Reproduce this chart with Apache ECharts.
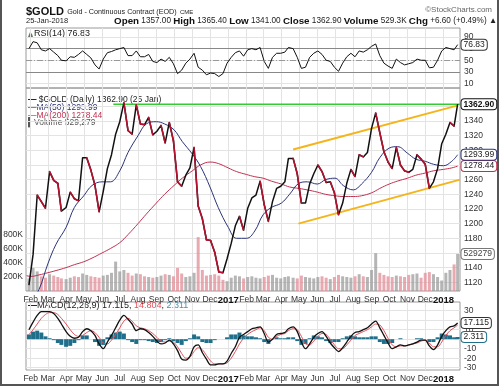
<!DOCTYPE html>
<html><head><meta charset="utf-8">
<script src="https://cdn.jsdelivr.net/npm/echarts@6/dist/echarts.min.js"></script>
<style>html,body{margin:0;padding:0;background:#fff}#c{width:500px;height:387px}</style>
</head><body><div id="c"></div>
<script>
// ---------- data (weekly samples) ----------
const weeks = ['2016-01-29','2016-02-05','2016-02-12','2016-02-19','2016-02-26','2016-03-04','2016-03-11','2016-03-18','2016-03-24','2016-04-01','2016-04-08','2016-04-15','2016-04-22','2016-04-29','2016-05-06','2016-05-13','2016-05-20','2016-05-27','2016-06-03','2016-06-10','2016-06-17','2016-06-24','2016-07-01','2016-07-08','2016-07-15','2016-07-22','2016-07-29','2016-08-05','2016-08-12','2016-08-19','2016-08-26','2016-09-02','2016-09-09','2016-09-16','2016-09-23','2016-09-30','2016-10-07','2016-10-14','2016-10-21','2016-10-28','2016-11-04','2016-11-11','2016-11-18','2016-11-25','2016-12-02','2016-12-09','2016-12-16','2016-12-23','2016-12-30',
'2017-01-06','2017-01-13','2017-01-20','2017-01-27','2017-02-03','2017-02-10','2017-02-17','2017-02-24','2017-03-03','2017-03-10','2017-03-17','2017-03-24','2017-03-31','2017-04-07','2017-04-13','2017-04-21','2017-04-28','2017-05-05','2017-05-12','2017-05-19','2017-05-26','2017-06-02','2017-06-09','2017-06-16','2017-06-23','2017-06-30','2017-07-07','2017-07-14','2017-07-21','2017-07-28','2017-08-04','2017-08-11','2017-08-18','2017-08-25','2017-09-01','2017-09-08','2017-09-15','2017-09-22','2017-09-29','2017-10-06','2017-10-13','2017-10-20','2017-10-27','2017-11-03','2017-11-10','2017-11-17','2017-11-24','2017-12-01','2017-12-08','2017-12-15','2017-12-22','2017-12-29',
'2018-01-05','2018-01-12','2018-01-19','2018-01-25'];
const close = [1116,1158,1239,1230,1221,1271,1259,1255,1217,1222,1243,1234,1231,1290,1290,1273,1252,1216,1244,1275,1294,1322,1339,1365,1327,1322,1362,1336,1335,1345,1321,1326,1334,1310,1338,1313,1257,1251,1266,1276,1304,1224,1207,1178,1177,1161,1134,1133,1152,
1173,1197,1210,1191,1221,1235,1239,1258,1226,1203,1230,1248,1251,1257,1289,1289,1268,1228,1228,1254,1268,1280,1271,1256,1257,1242,1212,1228,1255,1274,1264,1294,1291,1297,1330,1351,1324,1298,1284,1275,1304,1280,1272,1270,1274,1294,1288,1281,1248,1257,1275,1309,
1322,1338,1333,1362.9];
const volumeK = [180,330,280,210,190,240,220,200,180,170,190,210,200,250,230,210,200,190,220,230,260,420,280,300,260,220,250,240,210,200,190,200,220,240,230,210,330,250,200,210,260,770,300,220,230,240,220,160,140,
190,220,210,180,200,210,190,180,200,220,230,190,180,200,210,190,180,220,200,190,180,200,210,190,170,200,230,210,200,190,210,240,210,200,300,540,260,230,210,200,220,210,200,230,240,250,190,260,270,240,200,150,
260,300,380,529.279];
const rsi = [70,82,80,68,66,70,64,58,50,49,56,55,60,66,60,54,42,35,52,63,65,68,70,72,58,58,66,56,56,60,48,46,52,48,55,44,27,33,45,52,62,38,33,25,28,27,22,27,45,
55,63,66,57,68,70,68,72,48,36,55,62,62,64,72,70,55,36,38,55,62,66,60,50,48,38,31,45,56,62,56,66,64,68,74,78,58,45,40,36,52,46,42,44,46,52,50,50,37,38,50,66,
72,70,68,76.83];
const macd = [10,18,25,29,29,29,27,22,16,8,3,1,2,8,11,9,4,-5,-10,-3,4,12,20,25,21,16,9,11,10,7,3,-2,-5,-4,-1,-5,-12,-21,-22,-18,-8,-6,-14,-21,-27,-27,-26,-26,-23,
-15,-8,2,5,8,11,12,13,6,-3,0,5,6,7,11,13,8,-3,-10,-5,2,6,8,3,-4,-9,-13,-9,-3,3,7,8,10,12,16,19,12,4,-4,-10,-8,-6,-7,-6,-5,-3,-1,-1,-7,-11,-6,3,
9,13,14,17.115];
const signal = [5,10,16,22,26,28,28,26,22,16,10,5,3,4,7,9,7,2,-4,-5,-1,5,12,19,22,19,14,12,11,9,6,2,-2,-3,-2,-3,-8,-15,-20,-19,-13,-9,-11,-17,-23,-26,-26,-26,-25,
-20,-13,-5,1,5,8,10,12,9,2,0,3,5,6,9,11,10,3,-5,-6,-2,3,6,5,0,-6,-10,-10,-6,-1,4,6,8,10,13,16,15,9,1,-6,-8,-7,-7,-6,-5,-4,-2,-1,-4,-8,-8,-3,
4,9,12,14.804];
const hist = [5,8,9,7,3,1,-1,-4,-6,-8,-7,-4,-1,4,4,0,-3,-7,-6,2,5,7,8,6,-1,-3,-5,-1,-1,-2,-3,-4,-3,-1,1,-2,-4,-6,-2,1,5,3,-3,-4,-4,-1,0,0,2,
5,5,7,4,3,3,2,1,-3,-5,0,2,1,1,2,2,-2,-6,-5,1,4,3,2,-2,-4,-3,-3,1,3,4,3,2,2,2,3,3,-3,-5,-5,-4,0,1,0,0,0,1,1,0,-3,-3,2,6,
5,4,2,2.311];
const maDates = ['2016-01-25','2016-02-01','2016-02-15','2016-03-01','2016-03-15','2016-04-01','2016-04-15','2016-05-01','2016-05-15','2016-06-01','2016-06-15','2016-07-01','2016-07-15','2016-08-01','2016-08-15','2016-09-01','2016-09-15','2016-10-01','2016-10-15','2016-11-01','2016-11-15','2016-12-01','2016-12-15',
'2017-01-01','2017-01-15','2017-02-01','2017-02-15','2017-03-01','2017-03-15','2017-04-01','2017-04-15','2017-05-01','2017-05-15','2017-06-01','2017-06-15','2017-07-01','2017-07-15','2017-08-01','2017-08-15','2017-09-01','2017-09-15','2017-10-01','2017-10-15','2017-11-01','2017-11-15','2017-12-01','2017-12-15',
'2018-01-01','2018-01-15','2018-01-25'];
const ma50 = [1085,1092,1110,1145,1172,1195,1222,1238,1252,1257,1257,1272,1297,1320,1336,1339,1336,1328,1312,1295,1278,1250,1222,
1195,1180,1180,1190,1212,1222,1228,1240,1255,1257,1254,1260,1262,1252,1246,1254,1270,1290,1303,1305,1296,1288,1285,1281,
1279,1285,1293.99];
const ma200 = [1129,1128,1130,1133,1136,1140,1144,1148,1153,1160,1166,1174,1185,1200,1213,1228,1240,1252,1262,1272,1280,1284,1282,
1276,1271,1267,1264,1262,1258,1254,1250,1248,1246,1243,1240,1238,1237,1237,1238,1242,1248,1254,1258,1262,1266,1269,1272,
1274,1276,1278.44];
const monthTicks = ['2016-02-01','2016-03-01','2016-04-01','2016-05-01','2016-06-01','2016-07-01','2016-08-01','2016-09-01','2016-10-01','2016-11-01','2016-12-01','2017-01-01','2017-02-01','2017-03-01','2017-04-01','2017-05-01','2017-06-01','2017-07-01','2017-08-01','2017-09-01','2017-10-01','2017-11-01','2017-12-01','2018-01-01'];
const priceTicks = [1120,1140,1160,1180,1200,1220,1240,1260,1280,1300,1320,1340,1360];
const rsiTicks = [10,30,50,70,90];
const macdTicks = [-30,-20,-10,0,10,20,30];
const volTicksK = [200,400,600,800];
const resistance = [['2016-06-20',1362.9],['2018-01-29',1362.9]];
const channelUpper = [['2017-04-21',1301],['2018-01-24',1361]];
const channelLower = [['2017-04-30',1200],['2018-01-29',1260]];

// ---------- chart ----------
const T = s => +echarts.number.parseDate(s);
const wt = weeks.map(T);
const xMin = T('2016-01-24'), xMax = T('2018-01-29');
const MONTHS = ['Jan','Feb','Mar','Apr','May','Jun','Jul','Aug','Sep','Oct','Nov','Dec'];
const FONT = '"Liberation Sans", Arial, sans-serif';
const monthT = monthTicks.map(T);
const GRIDC = '#e3e3e3';

function xAx(gi, show) {
  return {type:'value', gridIndex:gi, min:xMin, max:xMax, scale:true,
    axisLine:{show:false}, axisTick:{show:false, customValues:monthT},
    splitLine:{show:true, lineStyle:{color:GRIDC, width:1}},
    axisLabel:{show:show, customValues:monthT, margin:4, fontSize:8.5, color:'#333', fontFamily:FONT, hideOverlap:false,
      formatter:v => { const d = new Date(v); return d.getMonth()===0 ? '{y|'+d.getFullYear()+'}' : MONTHS[d.getMonth()]; },
      rich:{y:{fontWeight:'bold', fontSize:9.5, color:'#111', fontFamily:FONT}}}};
}
function yAx(gi, min, max, ticks, extra) {
  return Object.assign({type:'value', gridIndex:gi, position:'right', min:min, max:max, scale:true,
    axisLine:{show:false}, axisTick:{show:false, customValues:ticks},
    splitLine:{show:true, lineStyle:{color:GRIDC, width:1}},
    axisLabel:{customValues:ticks, margin:4, fontSize:8.5, color:'#333', fontFamily:FONT, formatter:v => String(v)}}, extra||{});
}
function tag(value, text, border, extra) {
  return {coord:[xMax, value], name:text, symbol:'rect', symbolSize:1, itemStyle:{color:'rgba(0,0,0,0)'},
    label:Object.assign({show:true, position:'right', distance:1, formatter:'{b}', backgroundColor:'#fff',
      borderColor:border, borderWidth:1, borderRadius:3, padding:[1,2,0,2], fontSize:8.5, color:'#222', fontFamily:FONT}, extra||{})};
}
const mp = data => ({symbol:'rect', symbolSize:1, silent:true, animation:false, data:data});

const chart = echarts.init(document.getElementById('c'), null, {renderer:'canvas'});
const pair = arr => arr.map(p => [T(p[0]), p[1]]);

const option = {
  animation:false,
  grid:[
    {left:26, top:28, width:434, height:60, show:true, borderColor:'#9a9a9a', borderWidth:1},
    {left:26, top:88, width:434, height:203, show:true, borderColor:'#9a9a9a', borderWidth:1},
    {left:26, top:302, width:434, height:68, show:true, borderColor:'#9a9a9a', borderWidth:1}
  ],
  xAxis:[xAx(0,false), xAx(1,true), xAx(2,true)],
  yAxis:[
    yAx(0, 2.26, 105.48, rsiTicks),
    yAx(1, 1108.1, 1385, priceTicks),
    yAx(1, 0, 2900, volTicksK, {position:'left', splitLine:{show:false},
      axisLabel:{customValues:volTicksK, margin:3, fontSize:8.5, color:'#333', fontFamily:FONT, formatter:v => v+'K'}}),
    yAx(2, -32.42, 39.16, macdTicks)
  ],
  series:[
    {type:'line', xAxisIndex:0, yAxisIndex:0, stack:'ob', data:rsi.map((v,i)=>[wt[i],70]), showSymbol:false, lineStyle:{opacity:0}, silent:true},
    {type:'line', xAxisIndex:0, yAxisIndex:0, stack:'ob', data:rsi.map((v,i)=>[wt[i],Math.max(v-70,0)]), showSymbol:false, lineStyle:{opacity:0}, areaStyle:{color:'#5f7f5f', opacity:0.85}, silent:true},
    {type:'line', xAxisIndex:0, yAxisIndex:0, stack:'os', data:rsi.map((v,i)=>[wt[i],Math.min(v,30)]), showSymbol:false, lineStyle:{opacity:0}, silent:true},
    {type:'line', xAxisIndex:0, yAxisIndex:0, stack:'os', data:rsi.map((v,i)=>[wt[i],30-Math.min(v,30)]), showSymbol:false, lineStyle:{opacity:0}, areaStyle:{color:'#5f7f5f', opacity:0.85}, silent:true},
    {type:'line', xAxisIndex:0, yAxisIndex:0, data:rsi.map((v,i)=>[wt[i],v]), showSymbol:false, lineStyle:{color:'#111', width:1}, z:5,
      markLine:{silent:true, symbol:'none', label:{show:false}, animation:false, data:[
        {yAxis:70, lineStyle:{color:'#888', width:1, type:'solid'}},
        {yAxis:30, lineStyle:{color:'#888', width:1, type:'solid'}},
        {yAxis:50, lineStyle:{color:'#999', width:1, type:[6,2,1,2]}}]},
      markPoint:mp([tag(76.83,'76.83','#333')])},
    {type:'bar', xAxisIndex:1, yAxisIndex:2, barWidth:3, data:volumeK.map((v,i)=>[wt[i],v]), z:1,
      itemStyle:{color:p => (p.dataIndex>0 && close[p.dataIndex]<close[p.dataIndex-1]) ? 'rgba(226,140,150,0.75)' : 'rgba(150,150,150,0.7)'},
      markPoint:mp([tag(529.279,'529279','#777',{color:'#444'})])},
    {type:'line', xAxisIndex:1, yAxisIndex:1, data:pair(maDates.map((d,i)=>[d,ma200[i]])), smooth:0.4, showSymbol:false, lineStyle:{color:'#c0304f', width:1}, z:3,
      markPoint:mp([tag(1278.44,'1278.44','#c0304f')])},
    {type:'line', xAxisIndex:1, yAxisIndex:1, data:pair(maDates.map((d,i)=>[d,ma50[i]])), smooth:0.4, showSymbol:false, lineStyle:{color:'#2b3478', width:1}, z:3,
      markPoint:mp([tag(1293.99,'1293.99','#2b3478')])},
    {type:'line', xAxisIndex:1, yAxisIndex:1, data:pair(resistance), showSymbol:false, lineStyle:{color:'#33cc33', width:1.6}, z:4},
    {type:'line', xAxisIndex:1, yAxisIndex:1, data:pair(channelUpper), showSymbol:false, lineStyle:{color:'#f4b41a', width:2}, z:4},
    {type:'line', xAxisIndex:1, yAxisIndex:1, data:pair(channelLower), showSymbol:false, lineStyle:{color:'#f4b41a', width:2}, z:4},
    {type:'line', xAxisIndex:1, yAxisIndex:1, data:close.map((v,i)=>[wt[i],v]), showSymbol:false, lineStyle:{color:'#111', width:1.5}, z:6,
      markPoint:mp([tag(1362.9,'1362.90','#111',{fontWeight:'bold', color:'#111'})])},
    {type:'custom', xAxisIndex:1, yAxisIndex:1, z:7, clip:true, data:close.map((v,i)=>[wt[i],v]),
      renderItem:(params, api) => {
        const i = params.dataIndex;
        if (i===0 || close[i] >= close[i-1]) return null;
        const a = api.coord([wt[i-1], close[i-1]]), b = api.coord([wt[i], close[i]]);
        return {type:'line', shape:{x1:a[0], y1:a[1], x2:b[0], y2:b[1]}, style:{stroke:'#b3122f', lineWidth:1.6, lineCap:'round'}};
      }},
    {type:'bar', xAxisIndex:2, yAxisIndex:3, barWidth:4, data:hist.map((v,i)=>[wt[i],v]), itemStyle:{color:'#1f6f8b'}, z:2},
    {type:'line', xAxisIndex:2, yAxisIndex:3, data:signal.map((v,i)=>[wt[i],v]), smooth:0.3, showSymbol:false, lineStyle:{color:'#e0505a', width:1}, z:3},
    {type:'line', xAxisIndex:2, yAxisIndex:3, data:macd.map((v,i)=>[wt[i],v]), smooth:0.3, showSymbol:false, lineStyle:{color:'#111', width:1.3}, z:4,
      markPoint:mp([tag(17.115,'17.115','#333'), tag(2.311,'2.311','#1f6f8b')])}
  ],
  graphic:[
    {type:'rect', shape:{x:1, y:-10, width:497, height:395}, style:{fill:'none', stroke:'#555', lineWidth:2}, silent:true},
    {type:'text', left:26, top:6, style:{text:'{a|$GOLD} {b|Gold - Continuous Contract (EOD)} {c|CME}', rich:{
      a:{fontSize:11, fontWeight:'bold', fill:'#111', fontFamily:FONT},
      b:{fontSize:7.2, fill:'#222', fontFamily:FONT}, c:{fontSize:6, fill:'#222', fontFamily:FONT}}}},
    {type:'text', left:26, top:17, style:{text:'25-Jan-2018', fontSize:7.5, fill:'#222', fontFamily:FONT}},
    {type:'text', right:3, top:16, style:{text:'{k|Open} 1357.00 {k|High} 1365.40 {k|Low} 1341.00 {k|Close} 1362.90 {k|Volume} 529.3K {k|Chg} +6.60 (+0.49%) \u25B2',
      fontSize:8.2, fill:'#222', fontFamily:FONT, rich:{k:{fontSize:9.8, fontWeight:'bold', fill:'#111', fontFamily:FONT}}}},
    {type:'text', right:8, top:6, style:{text:'\u00A9StockCharts.com', fontSize:8, fill:'#666', fontFamily:FONT}},
    {type:'text', left:34, top:29, style:{text:'RSI(14) 76.83', fontSize:9, fill:'#222', fontFamily:FONT}},
    {type:'polygon', shape:{points:[[28,37],[30,32],[32,34],[33,37]]}, style:{fill:'#5f7f5f'}},
    {type:'text', left:28, top:95, style:{text:'{k|\u2014} $GOLD (Daily) 1362.90 (25 Jan)', fontSize:8.5, fill:'#222', fontFamily:FONT, rich:{k:{fill:'#111', fontWeight:'bold', fontSize:8.5}}}},
    {type:'text', left:28, top:103, style:{text:'\u2014MA(50) 1293.99', fontSize:8.5, fill:'#2b3478', fontFamily:FONT}},
    {type:'text', left:28, top:111, style:{text:'\u2014MA(200) 1278.44', fontSize:8.5, fill:'#c0304f', fontFamily:FONT}},
    {type:'text', left:28, top:118, style:{text:'\u258CVolume 529,279', fontSize:8.5, fill:'#555', fontFamily:FONT}},
    {type:'text', left:28, top:301, style:{text:'{k|\u2014}MACD(12,26,9) 17.115, {r|14.804}, {t|2.311}', fontSize:9, fill:'#222', fontFamily:FONT,
      rich:{k:{fill:'#111', fontWeight:'bold', fontSize:9}, r:{fill:'#e0505a', fontSize:9}, t:{fill:'#4a90b0', fontSize:9}}}}
  ]
};
chart.setOption(option);
</script></body></html>
